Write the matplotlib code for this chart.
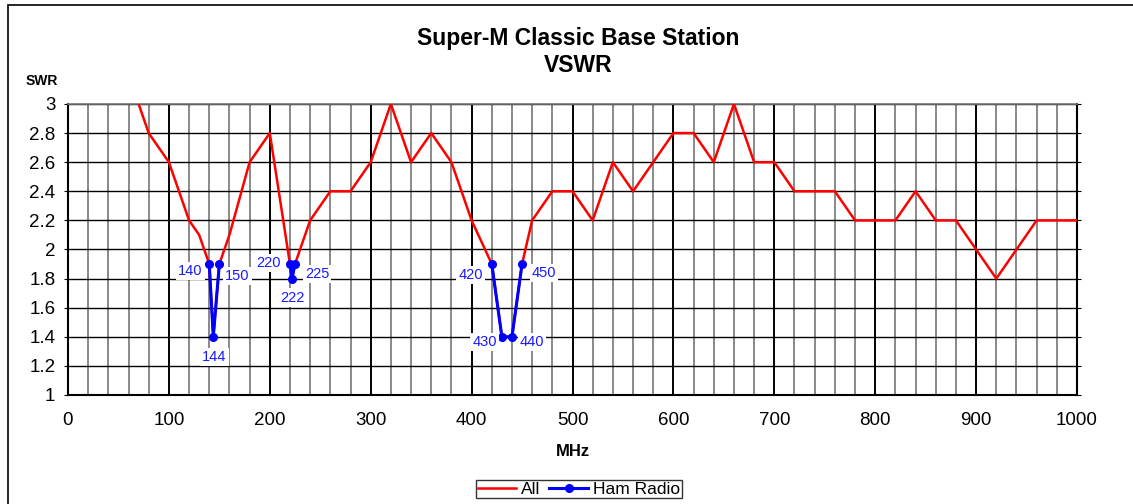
import numpy as np
import matplotlib.pyplot as plt
from matplotlib.patches import Rectangle
from matplotlib.ticker import MultipleLocator

plt.rcParams['font.family'] = ['Liberation Sans', 'DejaVu Sans']

# --- data ---
freq = [60, 80, 100, 120, 130, 140, 144, 150, 160, 180, 200, 220, 222, 225, 240,
        260, 280, 300, 320, 340, 360, 380, 400, 420, 430, 440, 450, 460, 480, 500,
        520, 540, 560, 580, 600, 620, 640, 660, 680, 700, 720, 740, 760, 780, 800,
        820, 840, 860, 880, 900, 920, 940, 960, 980, 1000]
swr = [3.2, 2.8, 2.6, 2.2, 2.1, 1.9, 1.4, 1.9, 2.1, 2.6, 2.8, 1.9, 1.8, 1.9, 2.2,
       2.4, 2.4, 2.6, 3.0, 2.6, 2.8, 2.6, 2.2, 1.9, 1.4, 1.4, 1.9, 2.2, 2.4, 2.4,
       2.2, 2.6, 2.4, 2.6, 2.8, 2.8, 2.6, 3.0, 2.6, 2.6, 2.4, 2.4, 2.4, 2.2, 2.2,
       2.2, 2.4, 2.2, 2.2, 2.0, 1.8, 2.0, 2.2, 2.2, 2.2]

ham_freq = [[140, 144, 150], [220, 222, 225], [420, 430, 440, 450]]
ham_swr = [[1.9, 1.4, 1.9], [1.9, 1.8, 1.9], [1.9, 1.4, 1.4, 1.9]]

# label offsets in pixels (dx, dy) for each ham point
label_offsets = [[(-19, -7), (1, -20), (18, -12)],
                 [(-21, 1), (0, -19), (22, -10)],
                 [(-21, -11), (-17, -5), (20, -5), (22, -9)]]

fig = plt.figure(figsize=(11.33, 5.04), dpi=100)
ax = fig.add_axes([0.060, 0.2163, 0.8906, 0.5774])

# outer chart border (only top/left visible)
fig.patches.append(Rectangle((8 / 1133, -0.1), 1.2, 1 - 5 / 504 + 0.1,
                             transform=fig.transFigure, fill=False,
                             edgecolor='black', linewidth=1.2, zorder=0))

ax.plot(freq, swr, color='#ff0000', linewidth=1.8, label='All', zorder=3)
for i in range(len(ham_freq)):
    ax.plot(ham_freq[i], ham_swr[i], color='#0000ff', linewidth=2.2, marker='o',
            markersize=5.5, label='Ham Radio' if i == 0 else None, zorder=4)
    for f, s, off in zip(ham_freq[i], ham_swr[i], label_offsets[i]):
        ax.annotate(str(f), (f, s), xytext=off, textcoords='offset pixels',
                    ha='center', va='center', color='#1a1aff', fontsize=10.5,
                    bbox=dict(boxstyle='square,pad=0.15', fc='white', ec='none'),
                    zorder=5)

ax.set_xlim(0, 1000)
ax.set_ylim(1, 3)
ax.xaxis.set_major_locator(MultipleLocator(100))
ax.xaxis.set_minor_locator(MultipleLocator(20))
ax.set_yticks(np.arange(1, 3.01, 0.2))
ax.set_yticklabels(['1', '1.2', '1.4', '1.6', '1.8', '2', '2.2', '2.4', '2.6', '2.8', '3'])

ax.grid(which='minor', axis='x', color='#6a6a6a', linewidth=1.1)
ax.grid(which='major', axis='x', color='black', linewidth=1.4)
ax.grid(which='major', axis='y', color='black', linewidth=1.0)
ax.set_axisbelow(True)

ax.tick_params(which='both', length=0, labelsize=13.5, pad=8)
ax.tick_params(axis='y', right=True, length=3, direction='out', pad=6)
ax.tick_params(axis='x', pad=12)

for side in ['left', 'bottom', 'right']:
    ax.spines[side].set_color('black')
    ax.spines[side].set_linewidth(1.5)
ax.spines['top'].set_color('#777777')
ax.spines['top'].set_linewidth(1.2)

fig.text(0.510, 0.924, 'Super-M Classic Base Station', ha='center', va='center',
         fontsize=16.5, fontweight='bold')
fig.text(0.510, 0.871, 'VSWR', ha='center', va='center',
         fontsize=16.5, fontweight='bold')
fig.text(42 / 1133, 1 - 81 / 504, 'SWR', ha='center', va='center',
         fontsize=10, fontweight='bold')
fig.text(573 / 1133, 1 - 452 / 504, 'MHz', ha='center', va='center',
         fontsize=12, fontweight='bold')

leg = fig.legend(loc='center', bbox_to_anchor=(579 / 1133, 1 - 489 / 504),
                 ncol=2, fontsize=12.5, frameon=True, fancybox=False,
                 edgecolor='black', handlelength=2.2, handletextpad=0.3,
                 columnspacing=0.5, borderpad=0.1)
leg.get_frame().set_linewidth(1.0)

fig.savefig('out.png', dpi=100)
